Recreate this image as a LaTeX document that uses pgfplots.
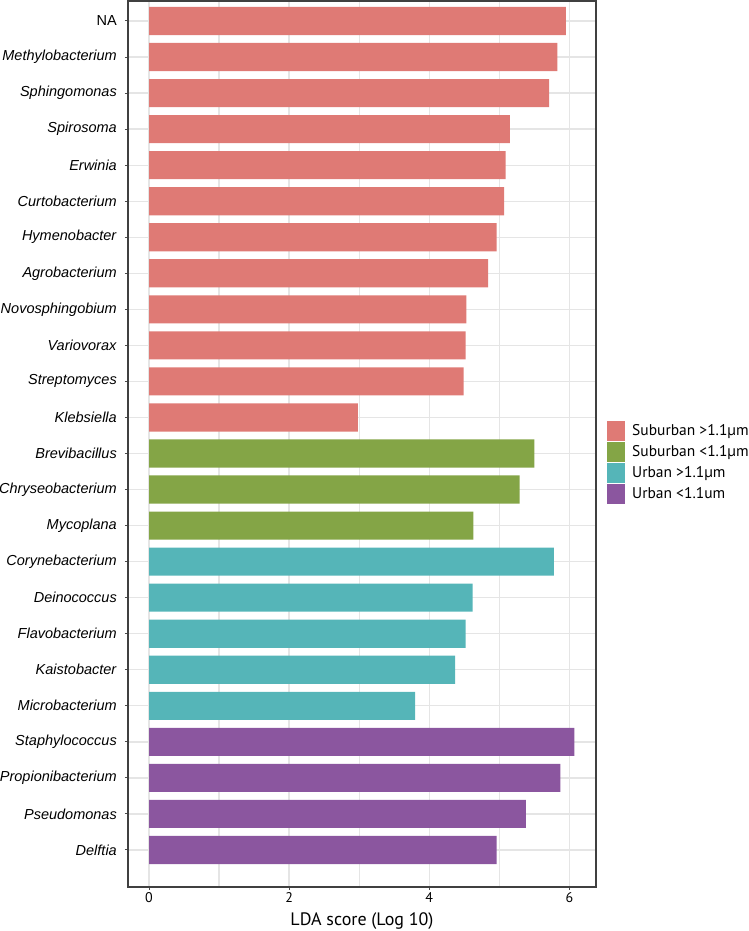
\documentclass[border=0pt]{standalone}
\usepackage{fontspec}
\setmainfont{PT Sans}
\newfontfamily\arialf{Liberation Sans}
\usepackage{pgfplots}
\pgfplotsset{compat=1.18}
\definecolor{cA}{HTML}{DF7A75}
\definecolor{cB}{HTML}{84A546}
\definecolor{cC}{HTML}{55B5B8}
\definecolor{cD}{HTML}{8B569F}
\begin{document}
\begin{tikzpicture}[x=1pt,y=1pt]
\useasboundingbox (0,0) rectangle (749,931);
\begin{axis}[
  at={(128pt,44pt)}, anchor=south west,
  scale only axis, width=468pt, height=886pt,
  xmin=-0.30, xmax=6.38, ymin=-0.027, ymax=24.555,
  xbar, bar shift=0pt, bar width=0.78,
  legend image code/.code={\fill[#1] (0pt,-10pt) rectangle (18pt,10pt);},
  xtick={0,2,4,6}, minor xtick={1,3,5},
  ytick={1,...,24},
  yticklabels={\textit{Delftia},\textit{Pseudomonas},\textit{Propionibacterium},\textit{Staphylococcus},\textit{Microbacterium},\textit{Kaistobacter},\textit{Flavobacterium},\textit{Deinococcus},\textit{Corynebacterium},\textit{Mycoplana},\textit{Chryseobacterium},\textit{Brevibacillus},\textit{Klebsiella},\textit{Streptomyces},\textit{Variovorax},\textit{Novosphingobium},\textit{Agrobacterium},\textit{Hymenobacter},\textit{Curtobacterium},\textit{Erwinia},\textit{Spirosoma},\textit{Sphingomonas},\textit{Methylobacterium},NA},
  grid=both,
  major grid style={black!10, line width=1.3pt},
  minor grid style={black!10, line width=1.3pt},
  tick align=outside, tick pos=left,
  major tick length=3pt, minor tick length=0pt,
  tick style={black!70, line width=1pt},
  axis line style={black!75, line width=1.2pt},
  /pgf/number format/assume math mode=true,
  xticklabel style={font=\fontsize{14}{16}\selectfont, inner sep=0pt, yshift=-2pt},
  yticklabel style={font=\arialf\fontsize{14.5}{16}\selectfont, inner sep=0pt, xshift=-8pt},
  xlabel={LDA score (Log 10)},
  xlabel style={font=\fontsize{18}{20}\selectfont, inner sep=0pt, yshift=-10pt},
  legend style={at={(1,0.5)}, anchor=west, xshift=11pt, yshift=-18.5pt,
    draw=none, fill=none, inner sep=0pt, row sep=1pt, column sep=7pt,
    nodes={inner sep=0pt, font=\fontsize{15.5}{18}\selectfont}},
  legend cell align=left,
]
\addplot[fill=cA, draw=none] coordinates {
(5.95,24) (5.83,23) (5.71,22) (5.15,21) (5.09,20) (5.07,19)
(4.96,18) (4.84,17) (4.53,16) (4.52,15) (4.49,14) (2.98,13)};
\addlegendentry{Suburban >1.1µm}
\addplot[fill=cB, draw=none] coordinates {
(5.50,12) (5.29,11) (4.63,10)};
\addlegendentry{Suburban <1.1µm}
\addplot[fill=cC, draw=none] coordinates {
(5.78,9) (4.62,8) (4.52,7) (4.37,6) (3.80,5)};
\addlegendentry{Urban >1.1µm}
\addplot[fill=cD, draw=none] coordinates {
(6.07,4) (5.87,3) (5.38,2) (4.96,1)};
\addlegendentry{Urban <1.1um}
\end{axis}
\end{tikzpicture}
\end{document}
